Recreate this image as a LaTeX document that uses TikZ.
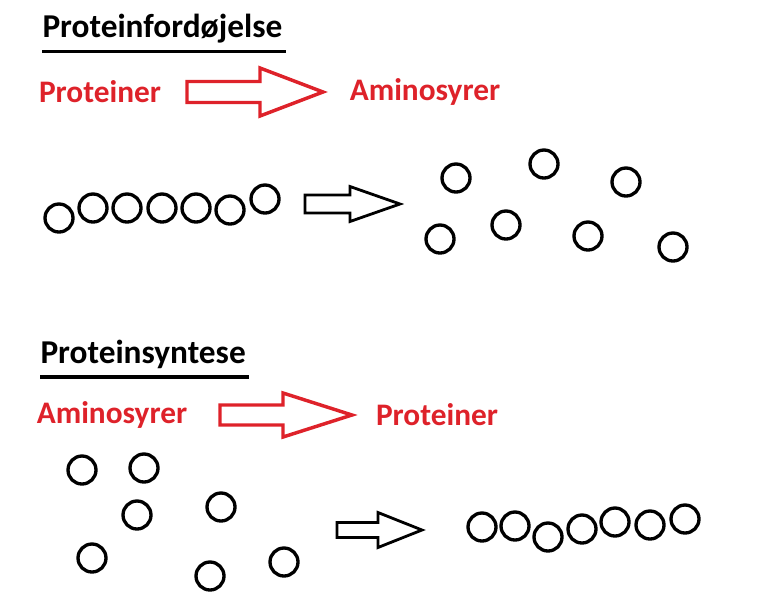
\documentclass[tikz,border=0pt]{standalone}
\usepackage{fontspec}
\setmainfont{Carlito}
\definecolor{protred}{RGB}{222,34,42}
\tikzset{every picture/.style={line width=0.75pt}}
\tikzset{
  title/.style={anchor=base west, inner sep=0pt, font=\fontsize{25}{28}\selectfont\bfseries},
  redlabel/.style={inner sep=0pt, text=protred, font=\fontsize{23.5}{26}\selectfont\bfseries},
  amino/.style={circle, draw, line width=2.5pt, minimum size=21pt, inner sep=0pt},
  pics/blockarrow/.style n args={4}{code={
    \draw[line join=miter] (0,-#2) -- ({#1-#4},-#2) -- ({#1-#4},-#3) -- (#1,0) -- ({#1-#4},#3) -- ({#1-#4},#2) -- (0,#2) -- cycle;
  }}
}

\begin{document}
\begin{tikzpicture}[x=0.75pt,y=0.75pt,yscale=-1,xscale=1]
\useasboundingbox (0,0) rectangle (764,601);

% Proteinfordøjelse
\node[title] (t1) at (42,37) {Proteinfordøjelse};
\draw[line width=2.3pt] ([yshift=11pt]t1.base west) -- ([yshift=11pt,xshift=2pt]t1.base east);
\node[redlabel] (p1) at (100,92) {Proteiner};
\node[redlabel] (a1) at (425,92) {Aminosyrer};
\pic[color=protred, line width=2.6pt] (r1) at (187,92) {blockarrow={136}{10.5}{24}{63}};

\foreach \x/\y [count=\i] in {59/218, 93/208, 127/208, 162/208, 196/208, 230/210, 265/199}
  \node[amino] (c\i) at (\x,\y) {};
\pic[line width=2.1pt] (k1) at (305,204) {blockarrow={95}{9}{17.5}{50}};
\foreach \x/\y [count=\i] in {456/178, 544/164, 626/182, 440/239, 506/225, 588/236, 673/247}
  \node[amino] (f\i) at (\x,\y) {};

% Proteinsyntese
\node[title] (t2) at (40,363) {Proteinsyntese};
\draw[line width=2.3pt] ([yshift=10.5pt]t2.base west) -- ([yshift=10.5pt,xshift=2pt]t2.base east);
\node[redlabel] (a2) at (112,415) {Aminosyrer};
\node[redlabel] (p2) at (437,415) {Proteiner};
\pic[color=protred, line width=2.6pt] (r2) at (220,415) {blockarrow={132}{10}{22}{69}};

\foreach \x/\y [count=\i] in {82/470, 144/468, 137/515, 221/507, 92/558, 210/576, 284/562}
  \node[amino] (s\i) at (\x,\y) {};
\pic[line width=2.1pt] (k2) at (337,530) {blockarrow={85}{7.5}{17.5}{44}};
\foreach \x/\y [count=\i] in {482/527, 515/526, 548/537, 582/529, 615/522, 650/525, 685/519}
  \node[amino] (l\i) at (\x,\y) {};

\end{tikzpicture}
\end{document}
